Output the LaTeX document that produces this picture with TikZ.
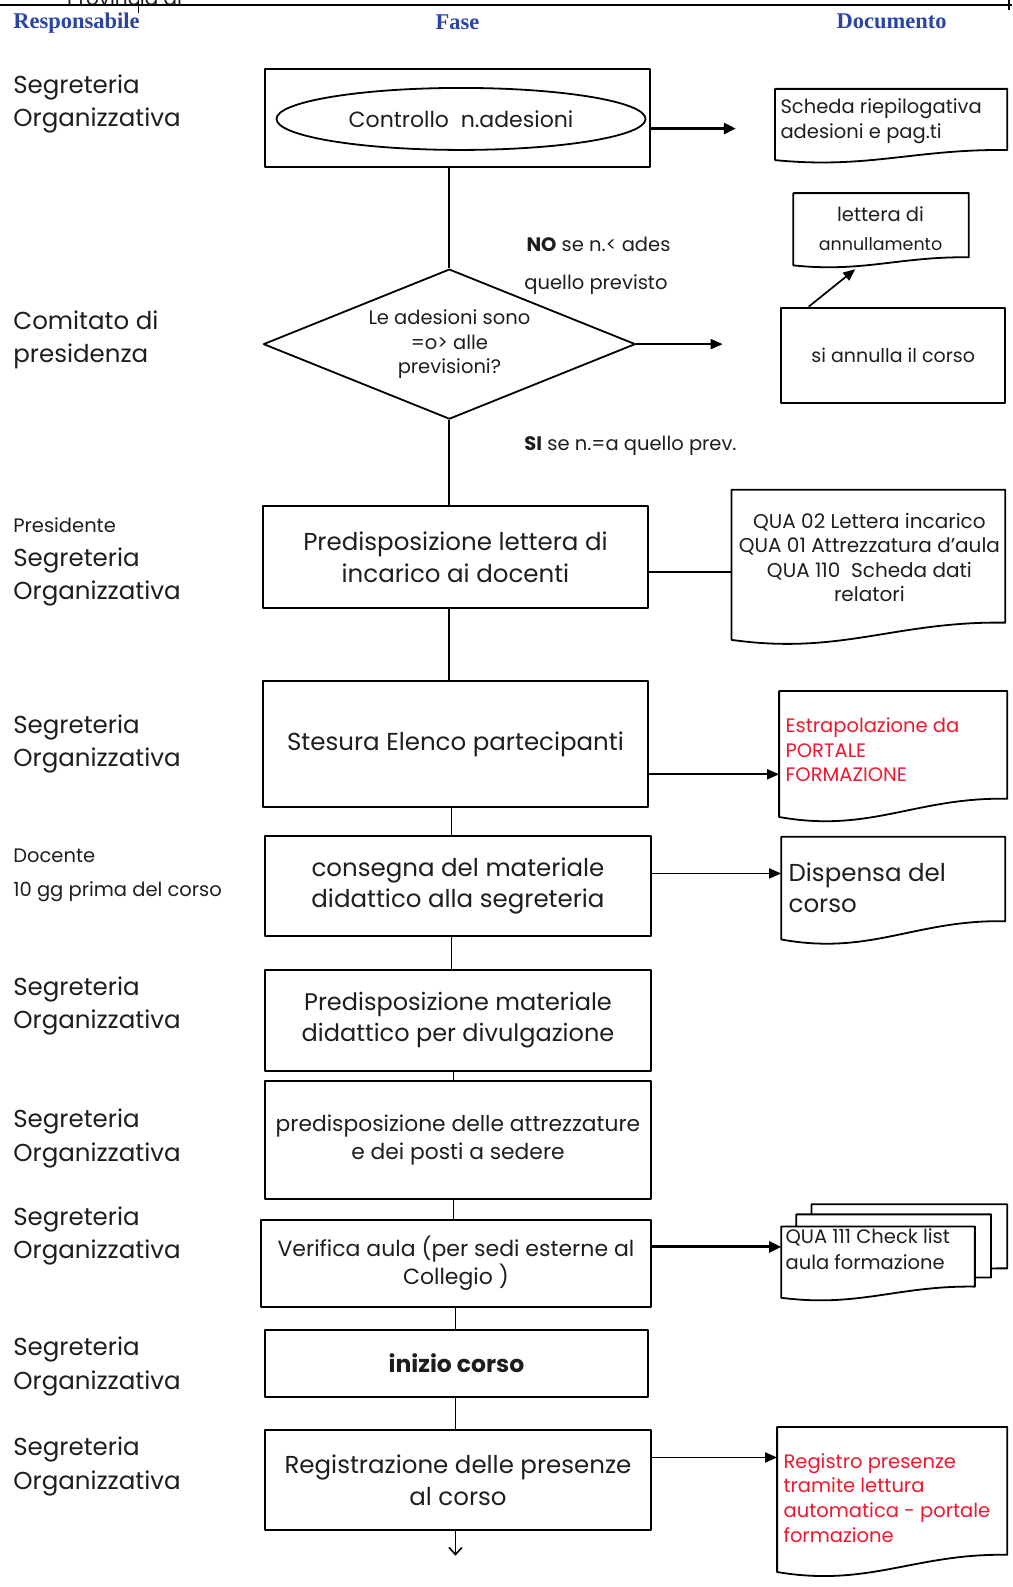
\documentclass[tikz,border=0pt]{standalone}
\usepackage{fontspec}
\setmainfont{Poppins}
\newfontfamily\hdrfont{Liberation Serif}
\usetikzlibrary{shapes.geometric,arrows.meta,calc}
\definecolor{hdrblue}{HTML}{2A44A8}
\definecolor{docred}{HTML}{F0182E}
\definecolor{ink}{HTML}{1E1E1E}
\newcommand\fs[2]{\fontsize{#1}{#2}\selectfont}
% document outline: #2 node, #3 rise of right corner
\newcommand\docpath[3][]{%
  \draw[docline,#1] (#2.south west) -- (#2.north west) -- (#2.north east) -- ($(#2.south east)+(0,{-#3})$)
    .. controls ($(#2.south west)!0.6!(#2.south east)+(0,{-1.1*#3})$) and ($(#2.south west)!0.4!(#2.south east)+(0,{0.9*#3})$) .. (#2.south west) -- cycle;}
\begin{document}
\begin{tikzpicture}[x=1.012pt,y=-1.012pt,line join=round,
  every node/.style={text=ink},
  area/.style n args={4}{minimum width={(#3-#1)*1.012pt}, minimum height={(#4-#2)*1.012pt}, at={({(#1+#3)/2},{(#2+#4)/2})}},
  proc/.style={draw, line width=2pt, inner sep=0pt, align=center},
  docbox/.style={inner sep=0pt},
  docline/.style={draw, line width=1.8pt, fill=white},
  conn/.style={line width=1.8pt},
  arr/.style={line width=1.7pt, -{Triangle[length=12pt,width=10pt]}},
  arrthick/.style={line width=2.9pt, -{Triangle[length=12pt,width=11pt]}},
  lbl/.style={anchor=west, align=left, inner sep=0pt, font=\fs{24.5}{33.4}},
  slbl/.style={anchor=west, align=left, inner sep=0pt, font=\fs{19.5}{22}},
  hdr/.style={inner sep=0pt, text=hdrblue, font=\hdrfont\bfseries\fs{22.5}{24}},
  dtext/.style={anchor=west, align=left, inner sep=0pt, font=\fs{19.5}{25}},
  note/.style={anchor=west, inner sep=0pt, font=\fs{19.5}{22}}
]
\useasboundingbox (0,0) rectangle (1000,1568);
\fill[white] (0,0) rectangle (1000,1568);

% top table remnant
\node[anchor=base west, inner sep=0pt, font=\fs{20}{22}] (prov) at (66,5) {Provincia di};
\draw[line width=1.4pt] (0,5) -- (1000,5);
\draw[line width=1.4pt] (137,-2) -- (137,13);
\draw[line width=1.4pt] (997,-2) -- (997,10);

% headers
\node[hdr, anchor=west] (hresp) at (13,23) {Responsabile};
\node[hdr] (hfase) at (452,22) {Fase};
\node[hdr] (hdoc) at (881,21) {Documento};

% left labels
\node[lbl] (l1) at (13,103) {Segreteria\\Organizzativa};
\node[lbl] (l2) at (13,336) {Comitato di\\presidenza};
\node[slbl] (l3a) at (13,519) {Presidente};
\node[lbl] (l3) at (13,570) {Segreteria\\Organizzativa};
\node[lbl] (l4) at (13,735) {Segreteria\\Organizzativa};
\node[slbl] (l5a) at (13,846) {Docente};
\node[slbl] (l5b) at (13,881) {10 gg prima del corso};
\node[lbl] (l6) at (13,994) {Segreteria\\Organizzativa};
\node[lbl] (l7) at (13,1125) {Segreteria\\Organizzativa};
\node[lbl] (l8) at (13,1221) {Segreteria\\Organizzativa};
\node[lbl] (l9) at (13,1350) {Segreteria\\Organizzativa};
\node[lbl] (l10) at (13,1449) {Segreteria\\Organizzativa};

% process column
\node[proc, area={262}{68}{642}{165}] (b1) {};
\node[draw, ellipse, line width=1.8pt, inner sep=0pt, minimum width=369pt, minimum height=62pt, font=\fs{22}{24}] (e1) at (455.5,117.5) {Controllo\ \ n.adesioni};
\node[draw, diamond, shape aspect=2.48, line width=1.8pt, inner sep=0pt, minimum width=372pt, minimum height=150pt, align=center, font=\fs{19.5}{24.5}] (dia) at (444,340) {Le adesioni sono\\=o> alle\\previsioni?};
\node[proc, area={260}{500}{640}{601}, font=\fs{24.5}{31.5}] (b3) {Predisposizione lettera di\\incarico ai docenti};
\node[proc, area={260}{673}{640}{797}, font=\fs{24.5}{31.5}] (b4) {Stesura Elenco partecipanti};
\node[proc, area={262}{826}{643}{925}, font=\fs{24.5}{31.5}] (b5) {consegna del materiale\\didattico alla segreteria};
\node[proc, area={262}{958}{643}{1058}, font=\fs{24}{30.5}] (b6) {Predisposizione materiale\\didattico per divulgazione};
\node[proc, area={262}{1068}{643}{1185}, font=\fs{21.8}{27.5}] (b7) {predisposizione delle attrezzature\\e dei posti a sedere};
\node[proc, area={258}{1205}{643}{1291}, font=\fs{22}{27.5}] (b8) {Verifica aula (per sedi esterne al\\Collegio )};
\node[proc, area={262}{1314}{640}{1380}, font=\bfseries\fs{23.5}{24}] (b9) {inizio corso};
\node[proc, area={262}{1413}{643}{1512}, font=\fs{24.5}{32}] (b10) {Registrazione delle presenze\\al corso};

% labels of the decision
\node[note] (no1) at (520,241) {\textbf{NO} se n.< ades};
\node[note] (no2) at (518,281) {quello previsto};
\node[note] (si1) at (518,440) {\textbf{SI} se n.=a quello prev.};

% annulla box
\node[proc, area={772}{304}{993}{398}, font=\fs{19}{22}] (ann) {si annulla il corso};

% documents
\node[docbox, area={766}{88}{995}{158}] (d1) {};
\docpath{d1}{10}
\node[dtext, font=\fs{19.5}{25}] (d1t) at (771,120) {Scheda riepilogativa\\adesioni e pag.ti};

\node[docbox, area={784}{191}{957}{262}] (d2) {};
\docpath{d2}{8}
\node[align=center, inner sep=0pt, font=\fs{19.5}{29}] (d2t) at (870,226) {lettera di\\{\fs{17.5}{20}annullamento}};

\node[docbox, area={723}{484}{993}{632}] (d3) {};
\docpath{d3}{17}
\node[align=center, inner sep=0pt, font=\fs{20}{24.5}] (d3t) at (859,551) {QUA 02 Lettera incarico\\QUA 01\ Attrezzatura d'aula\\QUA 110\ \ Scheda dati\\relatori};

\node[docbox, area={770}{683}{995}{807}] (d4) {};
\docpath{d4}{18}
\node[dtext, text=docred, font=\fs{19.5}{24.5}] (d4t) at (776,741) {Estrapolazione da\\PORTALE\\FORMAZIONE};

\node[docbox, area={772}{827}{993}{928}] (d5) {};
\docpath{d5}{18}
\node[dtext, font=\fs{24.5}{31}] (d5t) at (779,877.5) {Dispensa del\\corso};

\node[docbox, area={802}{1190}{995}{1262}] (md3) {};
\docpath{md3}{9}
\node[docbox, area={787}{1200}{979}{1272}] (md2) {};
\docpath{md2}{10}
\node[docbox, area={772}{1212}{963}{1282}] (md1) {};
\docpath{md1}{11}
\node[dtext, font=\fs{19.5}{26}] (mdt) at (776,1234) {QUA 111 Check list\\aula formazione};

\node[docbox, area={768}{1410}{995}{1553}] (d10) {};
\docpath{d10}{17}
\node[dtext, text=docred, font=\fs{19.5}{24.7}] (d10t) at (774,1480) {Registro presenze\\tramite lettura\\automatica - portale\\formazione};

% connectors down the column
\coordinate (colA) at (444,0);
\coordinate (colB) at (446,0);
\coordinate (colC) at (448,0);
\coordinate (endc) at (450,1537);
\draw[conn] (b1.south -| dia.north) -- (dia.north);
\draw[conn] (dia.south) -- (dia.south |- b3.north);
\draw[conn] (b3.south -| colA) -- (b4.north -| colA);
\draw[conn] (b4.south -| colB) -- (b5.north -| colB);
\draw[conn] (b5.south -| colB) -- (b6.north -| colB);
\draw[conn] (b6.south -| colC) -- (b7.north -| colC);
\draw[conn] (b7.south -| colC) -- (b8.north -| colC);
\draw[conn] (b8.south -| endc) -- (b9.north -| endc);
\draw[conn] (b9.south -| endc) -- (b10.north -| endc);
\draw[line width=1.6pt, -{Straight Barb[length=7pt,width=13pt]}] (b10.south -| endc) -- (endc);

% side connectors
\coordinate (a1) at (727,127);
\draw[arrthick] (645,127 -| b1.east) -- (a1);
\coordinate (a2) at (714,340);
\draw[arr] (dia.east) -- (a2);
\coordinate (d2in) at (845,266);
\draw[arr] ($(ann.north west)+(28,0)$) -- (d2in);
\draw[conn] (b3.east |- 0,565) -- (d3.west |- 0,565);
\draw[arr] (b4.east |- 0,765) -- (d4.west |- 0,765);
\draw[arr] (b5.east |- 0,863) -- (d5.west |- 0,863);
\draw[arrthick] (b8.east |- 0,1232) -- (md1.west |- 0,1232);
\draw[arr] (b10.east |- 0,1440) -- (d10.west |- 0,1440);
\end{tikzpicture}
\end{document}
